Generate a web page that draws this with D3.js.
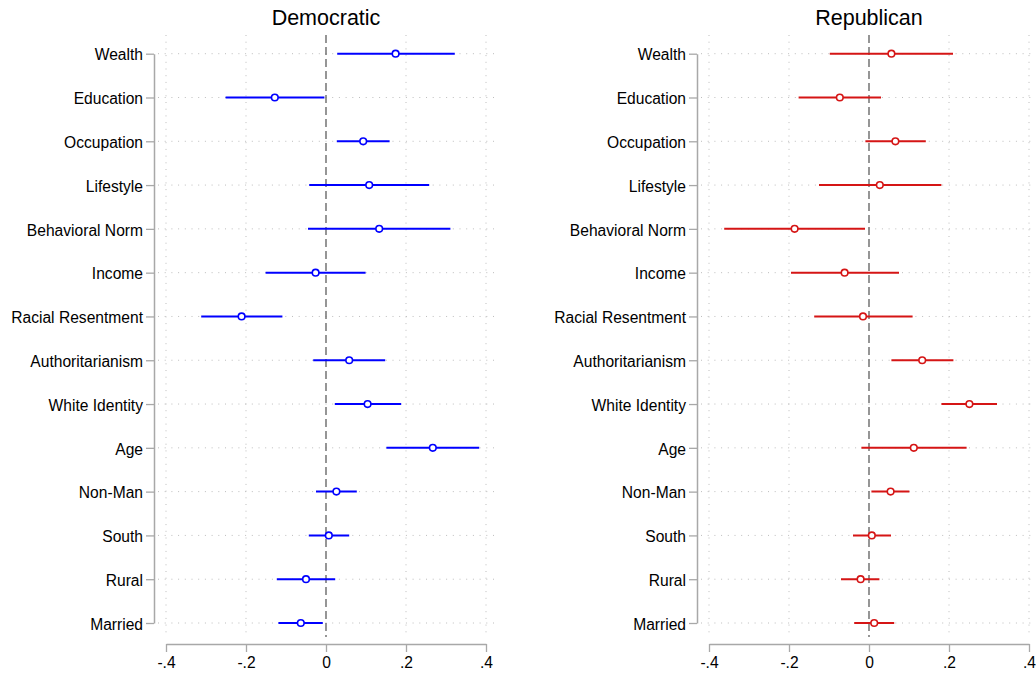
<!DOCTYPE html>
<html>
<head>
<meta charset="utf-8">
<script src="https://cdn.jsdelivr.net/npm/d3@7"></script>
<style>
  html, body { margin: 0; padding: 0; background: #fff; }
  svg { display: block; font-family: "Liberation Sans", Arial, Helvetica, sans-serif; }
</style>
</head>
<body>
<svg id="chart" width="1036" height="677"></svg>
<script>
// Predictors, listed top to bottom
const categories = ["Wealth", "Education", "Occupation", "Lifestyle", "Behavioral Norm", "Income",
  "Racial Resentment", "Authoritarianism", "White Identity", "Age", "Non-Man", "South", "Rural", "Married"];

// Democratic: point estimates and 95% interval bounds
const demEst   = [0.174, -0.128, 0.093, 0.108, 0.133, -0.026, -0.211, 0.058, 0.104, 0.267, 0.026, 0.007, -0.050, -0.063];
const demLow   = [0.028, -0.251, 0.027, -0.042, -0.045, -0.151, -0.312, -0.032, 0.022, 0.151, -0.025, -0.043, -0.123, -0.119];
const demHigh  = [0.322, -0.004, 0.159, 0.258, 0.311, 0.099, -0.109, 0.148, 0.188, 0.383, 0.077, 0.058, 0.023, -0.008];

// Republican: point estimates and 95% interval bounds
const repEst   = [0.056, -0.073, 0.066, 0.027, -0.186, -0.061, -0.015, 0.133, 0.251, 0.112, 0.054, 0.007, -0.021, 0.013];
const repLow   = [-0.098, -0.176, -0.009, -0.125, -0.362, -0.195, -0.137, 0.056, 0.181, -0.019, 0.006, -0.040, -0.070, -0.037];
const repHigh  = [0.210, 0.030, 0.142, 0.181, -0.010, 0.075, 0.109, 0.211, 0.320, 0.244, 0.101, 0.055, 0.026, 0.063];

const xTicks = [-0.4, -0.2, 0, 0.2, 0.4];
const xTickLabels = ["-.4", "-.2", "0", ".2", ".4"];

const panels = [
  { title: "Democratic", est: demEst, low: demLow, high: demHigh, color: "#0000ff",
    x0: 166, x1: 486, axisX: 154, gridL: 158, gridR: 497 },
  { title: "Republican", est: repEst, low: repLow, high: repHigh, color: "#d51515",
    x0: 709, x1: 1029, axisX: 697, gridL: 701, gridR: 1034 }
];

const svg = d3.select("#chart");
const yTop = 53.7, yBot = 623, gridTop = 35, gridBot = 637, xAxisY = 644;
const labelFont = "\"Liberation Sans\", Arial, sans-serif";

const y = d3.scalePoint().domain(categories).range([yTop, yBot]);

panels.forEach(p => {
  const x = d3.scaleLinear().domain([-0.4, 0.4]).range([p.x0, p.x1]);
  const g = svg.append("g");

  // horizontal dotted grid at each category
  g.append("g").selectAll("line").data(categories).join("line")
    .attr("x1", p.gridL).attr("x2", p.gridR)
    .attr("y1", d => y(d)).attr("y2", d => y(d))
    .attr("stroke", "#bdbdbd").attr("stroke-width", 1)
    .attr("stroke-dasharray", "1,5.7");

  // vertical dotted grid at the non-zero ticks
  g.append("g").selectAll("line").data(xTicks.filter(t => t !== 0)).join("line")
    .attr("x1", d => x(d)).attr("x2", d => x(d))
    .attr("y1", gridTop).attr("y2", gridBot)
    .attr("stroke", "#bdbdbd").attr("stroke-width", 1)
    .attr("stroke-dasharray", "1,5.7");

  // reference line at zero
  g.append("line")
    .attr("x1", x(0)).attr("x2", x(0))
    .attr("y1", gridTop).attr("y2", gridBot)
    .attr("stroke", "#6a6a6a").attr("stroke-width", 1.4)
    .attr("stroke-dasharray", "8,4");

  // y axis
  const yAxis = g.append("g")
    .attr("transform", `translate(${p.axisX},0)`)
    .call(d3.axisLeft(y).tickSize(8).tickSizeOuter(0).tickPadding(3));
  yAxis.select(".domain").attr("stroke", "#a8a8a8").attr("stroke-width", 1.5);
  yAxis.selectAll(".tick line").attr("stroke", "#a8a8a8").attr("stroke-width", 1.3);
  yAxis.selectAll(".tick text").attr("font-size", 15.6).attr("fill", "#000")
    .attr("font-family", labelFont).attr("dy", "0.4em");

  // x axis
  const xAxis = g.append("g")
    .attr("transform", `translate(0,${xAxisY})`)
    .call(d3.axisBottom(x).tickValues(xTicks).tickSize(8).tickSizeOuter(0).tickPadding(5)
      .tickFormat((d, i) => xTickLabels[i]));
  xAxis.select(".domain").attr("stroke", "#a8a8a8").attr("stroke-width", 1.5);
  xAxis.selectAll(".tick line").attr("stroke", "#a8a8a8").attr("stroke-width", 1.3);
  xAxis.selectAll(".tick text").attr("font-size", 15.6).attr("fill", "#000")
    .attr("font-family", labelFont);

  // interval lines
  g.append("g").selectAll("line").data(categories).join("line")
    .attr("x1", (d, i) => x(p.low[i])).attr("x2", (d, i) => x(p.high[i]))
    .attr("y1", d => y(d)).attr("y2", d => y(d))
    .attr("stroke", p.color).attr("stroke-width", 2);

  // point estimates
  g.append("g").selectAll("circle").data(categories).join("circle")
    .attr("cx", (d, i) => x(p.est[i])).attr("cy", d => y(d))
    .attr("r", 3.3)
    .attr("fill", "#fff").attr("stroke", p.color).attr("stroke-width", 1.6);

  // panel title
  svg.append("text")
    .attr("x", x(0)).attr("y", 25)
    .attr("text-anchor", "middle")
    .attr("font-size", 21.5).attr("fill", "#000")
    .attr("font-family", labelFont)
    .text(p.title);
});
</script>
</body>
</html>
